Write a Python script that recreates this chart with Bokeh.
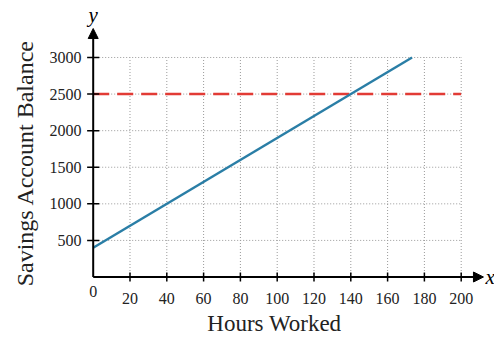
from bokeh.plotting import figure
from bokeh.models import Range1d, Arrow, NormalHead
from bokeh.core.properties import value
from bokeh.embed import file_html
from bokeh.resources import INLINE

# ---- data ----
hours = [0, 173.3]
balance = [400, 3000]
goal_hours = [0, 200]
goal_balance = [2500, 2500]
x_ticks = [20, 40, 60, 80, 100, 120, 140, 160, 180, 200]
x_tick_labels = [str(v) for v in x_ticks]
y_ticks = [500, 1000, 1500, 2000, 2500, 3000]
y_tick_labels = [str(v) for v in y_ticks]
x_max = 200
y_max = 3000
x_title = "Hours Worked"
y_title = "Savings Account Balance"

FONT = value("Liberation Serif")

W, H = 494, 337
p = figure(width=W, height=H, output_backend="svg", toolbar_location=None,
           x_range=Range1d(-50.38, 218.1), y_range=Range1d(-826.8, 3778.9),
           min_border=0, outline_line_color=None)
p.axis.visible = False
p.grid.visible = False
p.background_fill_color = "white"
p.border_fill_color = "white"

# grid
p.segment(x0=x_ticks, y0=[0] * len(x_ticks), x1=x_ticks, y1=[y_max] * len(x_ticks),
          line_color="#9a9a9a", line_width=1, line_dash="1 2")
p.segment(x0=[0] * len(y_ticks), y0=y_ticks, x1=[x_max] * len(y_ticks), y1=y_ticks,
          line_color="#9a9a9a", line_width=1, line_dash="1 2")

# goal line
p.line(goal_hours, goal_balance, line_color="#e23b35", line_width=2.5, line_dash="16 8")
# savings line
p.line(hours, balance, line_color="#2a7ea6", line_width=2.5)

# axes with arrows
p.add_layout(Arrow(x_start=0, y_start=0, x_end=0, y_end=3396, line_color="black", line_width=2,
                   end=NormalHead(size=10, fill_color="black", line_color="black")))
p.add_layout(Arrow(x_start=0, y_start=0, x_end=212.1, y_end=0, line_color="black", line_width=2,
                   end=NormalHead(size=10, fill_color="black", line_color="black")))

# tick marks
p.segment(x0=x_ticks, y0=[-60] * len(x_ticks), x1=x_ticks, y1=[60] * len(x_ticks),
          line_color="black", line_width=1.5)
p.segment(x0=[-3.3] * len(y_ticks), y0=y_ticks, x1=[3.3] * len(y_ticks), y1=y_ticks,
          line_color="black", line_width=1.5)

# tick labels
p.text(x=x_ticks, y=[-294] * len(x_ticks), text=x_tick_labels, text_font=FONT,
       text_font_size="16px", text_align="center", text_baseline="middle", text_color="#222")
p.text(x=[0], y=[-198], text=["0"], text_font=FONT,
       text_font_size="16px", text_align="center", text_baseline="middle", text_color="#222")
p.text(x=[-6.4] * len(y_ticks), y=y_ticks, text=y_tick_labels, text_font=FONT,
       text_font_size="16px", text_align="right", text_baseline="middle", text_color="#222")

# axis variable letters
p.text(x=[0], y=[3574], text=["y"], text_font=FONT, text_font_style="italic",
       text_font_size="21px", text_align="center", text_baseline="middle", text_color="black")
p.text(x=[213.2], y=[0], text=["x"], text_font=FONT, text_font_style="italic",
       text_font_size="21px", text_align="left", text_baseline="middle", text_color="black")

# titles
p.text(x=[98.5], y=[-636], text=[x_title], text_font=FONT, text_font_size="23px",
       text_align="center", text_baseline="middle", text_color="#222")
p.text(x=[-36.8], y=[1558], text=[y_title], text_font=FONT, text_font_size="24px",
       text_align="center", text_baseline="middle", text_color="#222", angle=1.5708)

open("out.html", "w").write(file_html(p, INLINE))
